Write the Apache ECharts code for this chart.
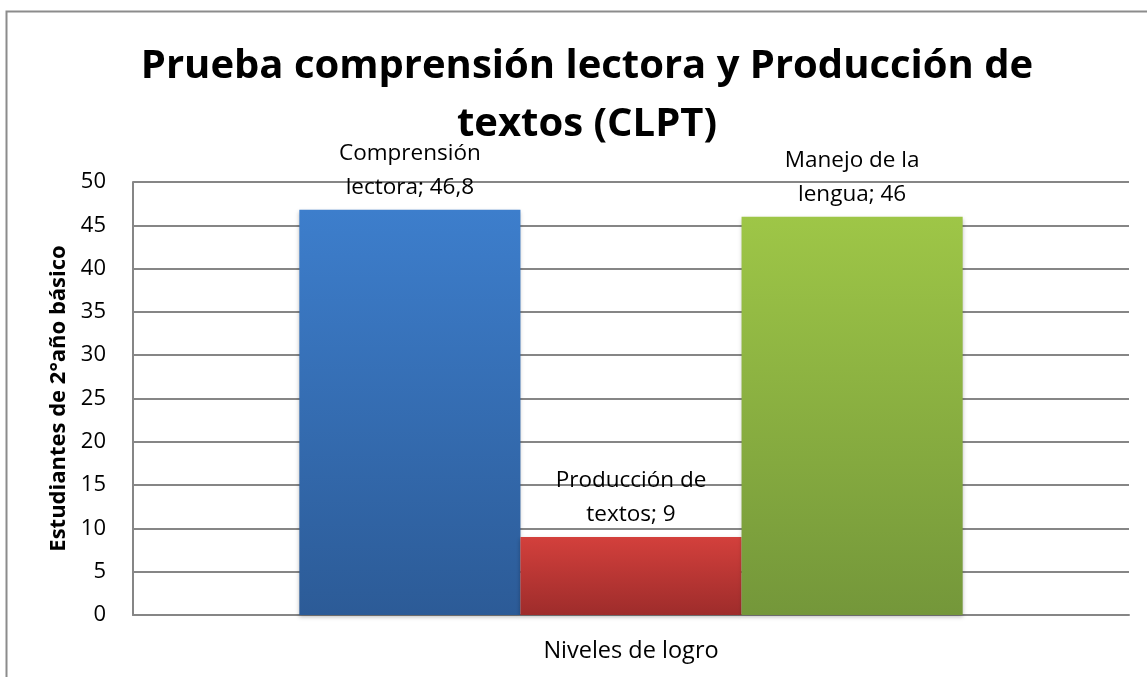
<!DOCTYPE html>
<html>
<head>
<meta charset="utf-8">
<script src="https://cdn.jsdelivr.net/npm/echarts@6/dist/echarts.min.js"></script>
<style>
html,body{margin:0;padding:0;background:#fff;}
#c{width:1147px;height:677px;}
</style>
</head>
<body>
<div id="c"></div>
<script>
const categories = ['Niveles de logro'];
const seriesNames = ['Comprensión lectora', 'Producción de textos', 'Manejo de la lengua'];
const labelTexts = ['Comprensión\nlectora; 46,8', 'Producción de\ntextos; 9', 'Manejo de la\nlengua; 46'];
const comprension = [46.8];
const produccion = [9];
const manejo = [46];
const yTicks = [0, 5, 10, 15, 20, 25, 30, 35, 40, 45, 50];

const FONT = '"Open Sans", "Noto Sans", sans-serif';
const grads = [
  ['#3D7ECC', '#2C5B97'],
  ['#D3403C', '#9E2C2B'],
  ['#9EC647', '#74973A']
];
const values = [comprension, produccion, manejo];

const chart = echarts.init(document.getElementById('c'), null, {renderer: 'canvas'});
chart.setOption({
  animation: false,
  backgroundColor: '#fff',
  title: {
    text: 'Prueba comprensión lectora y Producción de\ntextos (CLPT)',
    left: 582,
    top: 33,
    textAlign: 'center',
    textStyle: {
      fontFamily: FONT, fontWeight: 'bold', fontSize: 40, color: '#000', lineHeight: 58
    }
  },
  graphic: [{
    type: 'rect', shape: {x: 6.5, y: 11.5, width: 1160, height: 700},
    style: {fill: 'none', stroke: '#8c8c8c', lineWidth: 2}, silent: true
  }],
  grid: {left: 133, right: 18, top: 182, bottom: 62},
  xAxis: {
    type: 'category', data: categories,
    name: 'Niveles de logro', nameLocation: 'middle', nameGap: 24,
    nameTextStyle: {fontFamily: FONT, fontSize: 23.5, color: '#000'},
    axisLine: {lineStyle: {color: '#868686', width: 2}},
    axisTick: {show: false}, axisLabel: {show: false}
  },
  yAxis: {
    type: 'value', min: yTicks[0], max: yTicks[yTicks.length - 1], interval: 5,
    name: 'Estudiantes de 2°año básico', nameLocation: 'middle', nameGap: 63,
    nameTextStyle: {fontFamily: FONT, fontSize: 22, fontWeight: 'bold', color: '#000'},
    axisLine: {show: true, lineStyle: {color: '#868686', width: 2}},
    axisTick: {show: false},
    axisLabel: {fontFamily: FONT, fontSize: 22, color: '#000', margin: 27},
    splitLine: {lineStyle: {color: '#868686', width: 2}}
  },
  series: seriesNames.map((n, i) => ({
    name: n, type: 'bar', data: values[i],
    barGap: '0%', barCategoryGap: '33.4%',
    itemStyle: {
      color: new echarts.graphic.LinearGradient(0, 0, 0, 1, [
        {offset: 0, color: grads[i][0]}, {offset: 1, color: grads[i][1]}
      ]),
      shadowColor: 'rgba(0,0,0,0.25)', shadowBlur: 4, shadowOffsetY: 2
    },
    label: {
      show: true, position: 'top', distance: 5,
      formatter: () => labelTexts[i],
      fontFamily: FONT, fontSize: 22.5, color: '#000', lineHeight: 34, align: 'center'
    }
  }))
});
</script>
</body>
</html>
